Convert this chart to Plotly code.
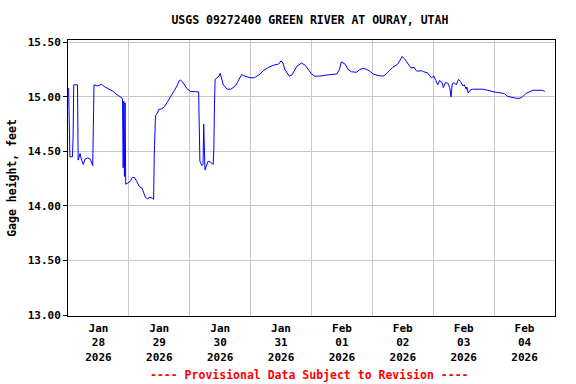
import plotly.graph_objects as go

title_text = "USGS 09272400 GREEN RIVER AT OURAY, UTAH"
y_label = "Gage height, feet"
footer = "---- Provisional Data Subject to Revision ----"

times = [
    "2026-01-28 00:15", "2026-01-28 00:30", "2026-01-28 00:45", "2026-01-28 01:45", "2026-01-28 02:00",
    "2026-01-28 02:15", "2026-01-28 03:45", "2026-01-28 04:00", "2026-01-28 04:45", "2026-01-28 05:15",
    "2026-01-28 06:00", "2026-01-28 06:45", "2026-01-28 07:45", "2026-01-28 08:45", "2026-01-28 09:45",
    "2026-01-28 10:00", "2026-01-28 10:15", "2026-01-28 11:30", "2026-01-28 13:15", "2026-01-28 14:15",
    "2026-01-28 15:30", "2026-01-28 16:45", "2026-01-28 17:45", "2026-01-28 19:00", "2026-01-28 20:45",
    "2026-01-28 21:15", "2026-01-28 21:30", "2026-01-28 21:45", "2026-01-28 22:00", "2026-01-28 22:15",
    "2026-01-28 22:30", "2026-01-28 22:45", "2026-01-28 23:15", "2026-01-29 00:45", "2026-01-29 01:15",
    "2026-01-29 02:15", "2026-01-29 03:15", "2026-01-29 04:00", "2026-01-29 05:15", "2026-01-29 06:00",
    "2026-01-29 06:30", "2026-01-29 07:15", "2026-01-29 08:15", "2026-01-29 09:15", "2026-01-29 09:45",
    "2026-01-29 10:00", "2026-01-29 10:30", "2026-01-29 11:15", "2026-01-29 11:45", "2026-01-29 13:00",
    "2026-01-29 14:00", "2026-01-29 15:00", "2026-01-29 16:15", "2026-01-29 17:45", "2026-01-29 19:00",
    "2026-01-29 19:45", "2026-01-29 20:15", "2026-01-29 21:15", "2026-01-29 22:45", "2026-01-30 00:15",
    "2026-01-30 02:45", "2026-01-30 03:30", "2026-01-30 03:45", "2026-01-30 04:00", "2026-01-30 04:45",
    "2026-01-30 05:15", "2026-01-30 05:30", "2026-01-30 05:45", "2026-01-30 06:00", "2026-01-30 07:15",
    "2026-01-30 08:15", "2026-01-30 09:15", "2026-01-30 09:30", "2026-01-30 09:45", "2026-01-30 10:00",
    "2026-01-30 11:30", "2026-01-30 12:00", "2026-01-30 13:15", "2026-01-30 14:45", "2026-01-30 16:15",
    "2026-01-30 18:00", "2026-01-30 20:30", "2026-01-30 21:45", "2026-01-30 23:45", "2026-01-31 01:30",
    "2026-01-31 02:30", "2026-01-31 03:45", "2026-01-31 05:00", "2026-01-31 07:00", "2026-01-31 09:00",
    "2026-01-31 11:00", "2026-01-31 12:00", "2026-01-31 12:45", "2026-01-31 13:30", "2026-01-31 14:30",
    "2026-01-31 15:15", "2026-01-31 16:15", "2026-01-31 17:00", "2026-01-31 17:30", "2026-01-31 18:15",
    "2026-01-31 19:30", "2026-01-31 20:00", "2026-01-31 21:30", "2026-01-31 22:45", "2026-02-01 00:00",
    "2026-02-01 01:15", "2026-02-01 03:15", "2026-02-01 06:00", "2026-02-01 10:00", "2026-02-01 11:00",
    "2026-02-01 11:45", "2026-02-01 13:15", "2026-02-01 14:30", "2026-02-01 15:45", "2026-02-01 17:45",
    "2026-02-01 19:00", "2026-02-01 20:15", "2026-02-01 21:30", "2026-02-01 23:00", "2026-02-02 00:15",
    "2026-02-02 02:15", "2026-02-02 04:15", "2026-02-02 05:30", "2026-02-02 06:45", "2026-02-02 08:00",
    "2026-02-02 10:00", "2026-02-02 11:00", "2026-02-02 11:45", "2026-02-02 12:45", "2026-02-02 14:00",
    "2026-02-02 15:15", "2026-02-02 16:30", "2026-02-02 17:15", "2026-02-02 18:00", "2026-02-02 19:15",
    "2026-02-02 20:15", "2026-02-02 21:45", "2026-02-02 23:15", "2026-02-03 00:15", "2026-02-03 01:00",
    "2026-02-03 01:45", "2026-02-03 02:30", "2026-02-03 03:30", "2026-02-03 04:00", "2026-02-03 04:45",
    "2026-02-03 05:45", "2026-02-03 06:30", "2026-02-03 07:00", "2026-02-03 07:30", "2026-02-03 08:15",
    "2026-02-03 09:00", "2026-02-03 10:00", "2026-02-03 10:45", "2026-02-03 11:45", "2026-02-03 12:15",
    "2026-02-03 13:00", "2026-02-03 13:15", "2026-02-03 13:45", "2026-02-03 14:30", "2026-02-03 15:30",
    "2026-02-03 19:30", "2026-02-03 21:30", "2026-02-04 00:00", "2026-02-04 04:00", "2026-02-04 05:15",
    "2026-02-04 08:00", "2026-02-04 09:45", "2026-02-04 11:00", "2026-02-04 12:30", "2026-02-04 15:15",
    "2026-02-04 19:00", "2026-02-04 20:00",
]

gage_height = [
    15.08, 14.67, 14.45, 14.45, 14.62,
    15.11, 15.11, 14.42, 14.48, 14.43,
    14.38, 14.43, 14.44, 14.43, 14.37,
    14.74, 15.11, 15.10, 15.115, 15.095,
    15.08, 15.06, 15.05, 15.025, 15.00,
    14.99, 14.98, 14.35, 14.96, 14.27,
    14.945, 14.20, 14.205, 14.23, 14.26,
    14.26, 14.22, 14.18, 14.16, 14.12,
    14.08, 14.065, 14.08, 14.07, 14.06,
    14.46, 14.83, 14.85, 14.885, 14.89,
    14.91, 14.945, 14.99, 15.05, 15.10,
    15.145, 15.155, 15.135, 15.08, 15.05,
    15.045, 15.045, 14.73, 14.41, 14.37,
    14.38, 14.75, 14.37, 14.33, 14.41,
    14.40, 14.38, 14.53, 14.935, 15.16,
    15.19, 15.215, 15.11, 15.07, 15.07,
    15.10, 15.205, 15.19, 15.175, 15.175,
    15.19, 15.21, 15.24, 15.27, 15.29,
    15.30, 15.33, 15.31, 15.25, 15.21,
    15.19, 15.20, 15.23, 15.25, 15.28,
    15.30, 15.31, 15.29, 15.25, 15.21,
    15.19, 15.19, 15.20, 15.21, 15.25,
    15.32, 15.30, 15.25, 15.23, 15.225,
    15.25, 15.26, 15.255, 15.235, 15.21,
    15.195, 15.19, 15.21, 15.24, 15.27,
    15.30, 15.335, 15.37, 15.345, 15.30,
    15.265, 15.27, 15.24, 15.235, 15.24,
    15.23, 15.22, 15.175, 15.19, 15.15,
    15.11, 15.15, 15.13, 15.085, 15.13,
    15.125, 15.085, 15.00, 15.12, 15.13,
    15.11, 15.16, 15.14, 15.10, 15.11,
    15.07, 15.09, 15.035, 15.06, 15.07,
    15.07, 15.06, 15.045, 15.03, 15.005,
    14.99, 14.985, 14.995, 15.03, 15.06,
    15.06, 15.05,
]

grid_days = ["2026-01-28", "2026-01-29", "2026-01-30", "2026-01-31",
             "2026-02-01", "2026-02-02", "2026-02-03", "2026-02-04", "2026-02-05"]
label_pos = ["2026-01-28 12:00", "2026-01-29 12:00", "2026-01-30 12:00", "2026-01-31 12:00",
             "2026-02-01 12:00", "2026-02-02 12:00", "2026-02-03 12:00", "2026-02-04 12:00"]
label_text = ["Jan<br>28<br>2026", "Jan<br>29<br>2026", "Jan<br>30<br>2026", "Jan<br>31<br>2026",
              "Feb<br>01<br>2026", "Feb<br>02<br>2026", "Feb<br>03<br>2026", "Feb<br>04<br>2026"]
y_ticks = [13.0, 13.5, 14.0, 14.5, 15.0, 15.5]

FONT = "DejaVu Sans Mono"
x_range = ["2026-01-28 00:00", "2026-02-05 00:00"]

fig = go.Figure()
fig.add_trace(go.Scatter(x=times, y=gage_height, mode="lines",
                         line=dict(color="#0000ff", width=1), showlegend=False))
# invisible trace to activate the label axis
fig.add_trace(go.Scatter(x=[times[0]], y=[gage_height[0]], xaxis="x2", mode="markers",
                         marker=dict(opacity=0), showlegend=False, hoverinfo="skip"))

fig.update_layout(
    width=576, height=384,
    margin=dict(l=65, r=21, t=40, b=68),
    paper_bgcolor="white", plot_bgcolor="white",
    font=dict(family=FONT, size=11, color="black", weight="bold"),
    title=dict(text=title_text, x=0.538, xanchor="center", y=0.948, yanchor="middle",
               font=dict(family=FONT, size=11.5, color="black", weight="bold")),
    xaxis=dict(type="date", range=x_range, tickvals=grid_days, showticklabels=False,
               showgrid=True, gridcolor="#c8c8c8", gridwidth=1,
               showline=True, linecolor="black", linewidth=1, mirror=True,
               ticks="", zeroline=False),
    xaxis2=dict(type="date", range=x_range, overlaying="x", side="bottom", anchor="y",
                tickvals=label_pos, ticktext=label_text, showgrid=False, showline=False,
                ticks="", zeroline=False, ticklabelstandoff=4,
                tickfont=dict(family=FONT, size=11, color="black", weight="bold")),
    yaxis=dict(range=[12.991, 15.521], tickvals=y_ticks, tickformat=".2f",
               showgrid=True, gridcolor="#c8c8c8", gridwidth=1,
               showline=True, linecolor="black", linewidth=1, mirror=True,
               ticks="outside", ticklen=4, tickcolor="black", zeroline=False,
               tickfont=dict(family=FONT, size=11, color="black", weight="bold"),
               title=dict(text=y_label, standoff=8,
                          font=dict(family=FONT, size=11.5, color="black", weight="bold"))),
    annotations=[dict(text=footer, xref="paper", yref="paper", x=0.495, y=-0.215,
                      xanchor="center", yanchor="middle", showarrow=False,
                      font=dict(family=FONT, size=11.5, color="#ff0000", weight="bold"))],
)

fig.write_html("out.html")
